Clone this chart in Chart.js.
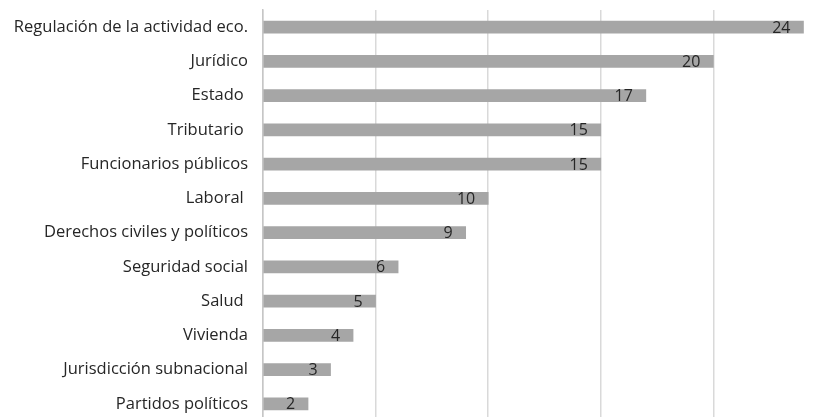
<!DOCTYPE html>
<html>
<head>
<meta charset="utf-8">
<script src="https://cdn.jsdelivr.net/npm/chart.js@4"></script>
<style>
    html, body { margin: 0; padding: 0; background: #fff; overflow: hidden; }
    #wrap { position: absolute; left: 0; top: 0; width: 830px; height: 421px; }
</style>
</head>
<body>
<div id="wrap"><canvas id="chart"></canvas></div>
<script>
const categories = [
    'Regulación de la actividad eco.',
    'Jurídico',
    'Estado ',
    'Tributario ',
    'Funcionarios públicos',
    'Laboral ',
    'Derechos civiles y políticos',
    'Seguridad social',
    'Salud ',
    'Vivienda',
    'Jurisdicción subnacional',
    'Partidos políticos',
];
const values = [24, 20, 17, 15, 15, 10, 9, 6, 5, 4, 3, 2];

const COLORS = {
    bar: '#a6a6a6',
    grid: '#d9d9d9',
    axis: '#c6c6c6',
    text: '#262626',
};
const FONT = '"Open Sans"';

// Value labels sit inside the end of each bar, like Excel's "inside end".
const insideEndLabels = {
    id: 'insideEndLabels',
    afterDatasetsDraw(chart) {
        const { ctx } = chart;
        const meta = chart.getDatasetMeta(0);
        ctx.save();
        ctx.font = `16px ${FONT}`;
        ctx.fillStyle = COLORS.text;
        ctx.textAlign = 'right';
        ctx.textBaseline = 'middle';
        meta.data.forEach((bar, i) => {
            ctx.fillText(String(values[i]), bar.x - 13, bar.y + 1);
        });
        ctx.restore();
    },
};

new Chart(document.getElementById('chart'), {
    type: 'bar',
    data: {
        labels: categories,
        datasets: [{
            data: values,
            backgroundColor: COLORS.bar,
            borderWidth: 0,
            barThickness: 12,
        }],
    },
    options: {
        indexAxis: 'y',
        responsive: true,
        maintainAspectRatio: false,
        animation: false,
        layout: { padding: { top: 10, right: 4, bottom: 0, left: 0 } },
        plugins: {
            legend: { display: false },
            tooltip: { enabled: false },
        },
        scales: {
            x: {
                min: 0,
                max: 25,
                ticks: { display: false, stepSize: 5 },
                grid: { color: COLORS.grid, lineWidth: 1.5, drawTicks: false },
                border: { display: false },
                afterFit(scale) {
                    scale.height = 0;
                    scale.paddingLeft = 0;
                    scale.paddingRight = 0;
                },
            },
            y: {
                grid: { display: false },
                border: { color: COLORS.axis, width: 1.5 },
                ticks: {
                    color: COLORS.text,
                    padding: 7,
                    font: { family: FONT, size: 16.5 },
                },
                afterFit(scale) {
                    scale.width = 263;
                    scale.paddingTop = 0;
                    scale.paddingBottom = 0;
                },
            },
        },
    },
    plugins: [insideEndLabels],
});
</script>
</body>
</html>
